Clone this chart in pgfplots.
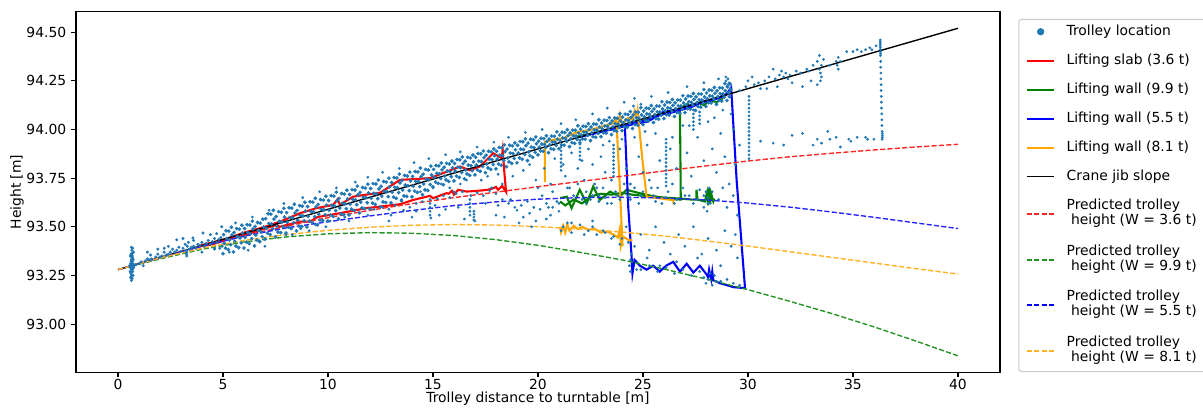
\documentclass[border=0pt]{standalone}
\usepackage{fontspec}
\setmainfont{DejaVu Sans}
\usepackage{pgfplots}
\usepackage{pgfplotstable}
\pgfplotsset{compat=1.18}

\definecolor{tabblue}{HTML}{1F77B4}
\definecolor{mplgreen}{HTML}{008000}
\definecolor{mplorange}{HTML}{FFA500}
\colorlet{predred}{red!85!white}
\colorlet{predgreen}{mplgreen!85!white}
\colorlet{predblue}{blue!85!white}
\colorlet{predorange}{mplorange!85!white}

% trolley positions: hook block at the turntable and the first metres of the jib
\pgfplotstableread[row sep=\\]{
x y\\
0.60 93.24\\0.62 93.26\\0.64 93.28\\0.66 93.30\\0.68 93.32\\0.70 93.34\\0.62 93.36\\0.66 93.38\\0.70 93.39\\
0.64 93.225\\0.68 93.235\\0.72 93.25\\0.58 93.27\\0.74 93.29\\0.60 93.31\\0.72 93.33\\0.58 93.35\\0.74 93.37\\
0.66 93.25\\0.70 93.27\\0.62 93.29\\0.64 93.33\\0.68 93.35\\0.60 93.29\\0.72 93.31\\0.66 93.34\\0.70 93.30\\
0.64 93.31\\0.68 93.28\\0.62 93.32\\0.76 93.30\\0.56 93.30\\0.66 93.36\\0.70 93.365\\0.64 93.395\\
0.85 93.305\\1.0 93.31\\1.1 93.32\\1.2 93.30\\1.3 93.325\\1.4 93.335\\1.5 93.33\\1.6 93.335\\1.55 93.355\\
1.8 93.345\\1.9 93.36\\2.0 93.345\\2.1 93.35\\2.2 93.37\\2.3 93.355\\2.4 93.36\\2.5 93.37\\2.6 93.385\\
2.7 93.37\\2.8 93.38\\2.9 93.395\\3.0 93.375\\3.1 93.39\\3.2 93.41\\3.25 93.38\\3.27 93.36\\3.28 93.35\\
3.27 93.37\\3.3 93.40\\3.35 93.42\\3.4 93.385\\3.5 93.395\\3.6 93.40\\3.7 93.39\\3.8 93.41\\3.9 93.405\\
4.0 93.42\\4.1 93.40\\4.2 93.415\\4.3 93.43\\4.4 93.41\\4.5 93.425\\4.6 93.44\\4.7 93.42\\4.8 93.435\\
4.9 93.445\\2.4 93.40\\2.8 93.433\\3.1 93.44\\3.57 93.443\\3.6 93.43\\1.9 93.385\\1.4 93.37\\2.2 93.39\\
4.05 93.468\\4.4 93.46\\4.7 93.465\\4.94 93.50\\4.95 93.40\\4.85 93.39\\4.0 93.37\\4.6 93.39\\
}\trolleystart

% trolley positions: dense band along the jib
\pgfplotstableread[row sep=\\]{
x y\\
5.00 93.362\\5.12 93.390\\5.06 93.415\\5.18 93.440\\5.03 93.460\\5.15 93.480\\
5.25 93.383\\5.37 93.408\\5.31 93.433\\5.43 93.458\\5.28 93.478\\5.40 93.498\\
5.50 93.371\\5.62 93.401\\5.56 93.426\\5.68 93.451\\5.53 93.471\\5.65 93.491\\
5.75 93.393\\5.87 93.418\\5.81 93.443\\5.93 93.468\\5.78 93.488\\5.90 93.508\\
6.00 93.391\\6.12 93.421\\6.06 93.446\\6.18 93.471\\6.03 93.491\\6.15 93.511\\
6.25 93.414\\6.37 93.439\\6.31 93.464\\6.43 93.489\\6.28 93.509\\6.40 93.529\\
6.50 93.402\\6.62 93.432\\6.56 93.457\\6.68 93.482\\6.53 93.502\\6.65 93.522\\
6.75 93.424\\6.87 93.449\\6.81 93.474\\6.93 93.499\\6.78 93.519\\6.90 93.539\\
7.00 93.437\\7.12 93.467\\7.06 93.492\\7.18 93.517\\7.03 93.542\\7.15 93.567\\
7.25 93.460\\7.37 93.490\\7.31 93.515\\7.43 93.540\\7.28 93.565\\7.40 93.585\\
7.50 93.448\\7.62 93.473\\7.56 93.503\\7.68 93.528\\7.53 93.553\\7.65 93.578\\
7.75 93.470\\7.87 93.500\\7.81 93.525\\7.93 93.550\\7.78 93.575\\7.90 93.595\\
8.00 93.468\\8.12 93.498\\8.06 93.523\\8.18 93.548\\8.03 93.573\\8.15 93.598\\
8.25 93.491\\8.37 93.521\\8.31 93.546\\8.43 93.571\\8.28 93.596\\8.40 93.616\\
8.50 93.479\\8.62 93.504\\8.56 93.534\\8.68 93.559\\8.53 93.584\\8.65 93.609\\
8.75 93.501\\8.87 93.531\\8.81 93.556\\8.93 93.581\\8.78 93.606\\8.90 93.626\\
9.00 93.499\\9.12 93.529\\9.06 93.554\\9.18 93.579\\9.03 93.604\\9.15 93.629\\
9.25 93.522\\9.37 93.552\\9.31 93.577\\9.43 93.602\\9.28 93.627\\9.40 93.647\\
9.50 93.510\\9.62 93.535\\9.56 93.565\\9.68 93.590\\9.53 93.615\\9.65 93.640\\
9.75 93.532\\9.87 93.562\\9.81 93.587\\9.93 93.612\\9.78 93.637\\9.90 93.657\\
10.00 93.530\\10.12 93.560\\10.06 93.585\\10.18 93.610\\10.03 93.635\\10.15 93.660\\
10.25 93.553\\10.37 93.583\\10.31 93.608\\10.43 93.633\\10.28 93.658\\10.40 93.678\\
10.50 93.541\\10.62 93.566\\10.56 93.596\\10.68 93.621\\10.53 93.646\\10.65 93.671\\
10.75 93.563\\10.87 93.593\\10.81 93.618\\10.93 93.643\\10.78 93.668\\10.90 93.688\\
11.00 93.561\\11.12 93.591\\11.06 93.616\\11.18 93.641\\11.03 93.666\\11.15 93.691\\
11.25 93.584\\11.37 93.614\\11.31 93.639\\11.43 93.664\\11.28 93.689\\11.40 93.709\\
11.50 93.572\\11.62 93.597\\11.56 93.627\\11.68 93.652\\11.53 93.677\\11.65 93.702\\
11.75 93.594\\11.87 93.624\\11.81 93.649\\11.93 93.674\\11.78 93.699\\11.90 93.719\\
12.00 93.592\\12.12 93.622\\12.06 93.647\\12.18 93.672\\12.03 93.697\\12.15 93.722\\
12.25 93.615\\12.37 93.645\\12.31 93.670\\12.43 93.695\\12.28 93.720\\12.40 93.740\\
12.50 93.603\\12.62 93.628\\12.56 93.658\\12.68 93.683\\12.53 93.708\\12.65 93.733\\
12.75 93.625\\12.87 93.655\\12.81 93.680\\12.93 93.705\\12.78 93.730\\12.90 93.750\\
13.00 93.623\\13.12 93.653\\13.06 93.678\\13.18 93.703\\13.03 93.728\\13.15 93.753\\
13.25 93.646\\13.37 93.676\\13.31 93.701\\13.43 93.726\\13.28 93.751\\13.40 93.771\\
13.50 93.634\\13.62 93.659\\13.56 93.689\\13.68 93.714\\13.53 93.739\\13.65 93.764\\
13.75 93.656\\13.87 93.686\\13.81 93.711\\13.93 93.736\\13.78 93.761\\13.90 93.781\\
14.00 93.654\\14.12 93.684\\14.06 93.709\\14.18 93.734\\14.03 93.759\\14.15 93.784\\
14.25 93.677\\14.37 93.707\\14.31 93.732\\14.43 93.757\\14.28 93.782\\14.40 93.802\\
14.50 93.665\\14.62 93.690\\14.56 93.720\\14.68 93.745\\14.53 93.770\\14.65 93.795\\
14.75 93.687\\14.87 93.717\\14.81 93.742\\14.93 93.767\\14.78 93.792\\14.90 93.812\\
15.00 93.705\\15.12 93.730\\15.06 93.755\\15.18 93.775\\15.03 93.795\\15.15 93.815\\
15.25 93.723\\15.37 93.748\\15.31 93.773\\15.43 93.793\\15.28 93.813\\15.40 93.828\\
15.50 93.716\\15.62 93.741\\15.56 93.761\\15.68 93.786\\15.53 93.806\\15.65 93.826\\
15.75 93.733\\15.87 93.758\\15.81 93.783\\15.93 93.803\\15.78 93.823\\15.90 93.838\\
16.00 93.736\\16.12 93.761\\16.06 93.786\\16.18 93.806\\16.03 93.826\\16.15 93.846\\
16.25 93.754\\16.37 93.779\\16.31 93.804\\16.43 93.824\\16.28 93.844\\16.40 93.859\\
16.50 93.747\\16.62 93.772\\16.56 93.792\\16.68 93.817\\16.53 93.837\\16.65 93.857\\
16.75 93.764\\16.87 93.789\\16.81 93.814\\16.93 93.834\\16.78 93.854\\16.90 93.869\\
17.00 93.767\\17.12 93.792\\17.06 93.817\\17.18 93.837\\17.03 93.857\\17.15 93.877\\
17.25 93.785\\17.37 93.810\\17.31 93.835\\17.43 93.855\\17.28 93.875\\17.40 93.890\\
17.50 93.778\\17.62 93.803\\17.56 93.823\\17.68 93.848\\17.53 93.868\\17.65 93.888\\
17.75 93.795\\17.87 93.820\\17.81 93.845\\17.93 93.865\\17.78 93.885\\17.90 93.900\\
18.00 93.798\\18.12 93.823\\18.06 93.848\\18.18 93.868\\18.03 93.888\\18.15 93.908\\
18.25 93.816\\18.37 93.841\\18.31 93.866\\18.43 93.886\\18.28 93.906\\18.40 93.921\\
18.50 93.809\\18.62 93.834\\18.56 93.854\\18.68 93.879\\18.53 93.899\\18.65 93.919\\
18.75 93.826\\18.87 93.851\\18.81 93.876\\18.93 93.896\\18.78 93.916\\18.90 93.931\\
19.00 93.829\\19.12 93.854\\19.06 93.879\\19.18 93.899\\19.03 93.919\\19.15 93.939\\
19.25 93.847\\19.37 93.872\\19.31 93.897\\19.43 93.917\\19.28 93.937\\19.40 93.952\\
19.50 93.840\\19.62 93.865\\19.56 93.885\\19.68 93.910\\19.53 93.930\\19.65 93.950\\
19.75 93.857\\19.87 93.882\\19.81 93.907\\19.93 93.927\\19.78 93.947\\19.90 93.962\\
20.00 93.870\\20.12 93.890\\20.06 93.910\\20.18 93.925\\20.03 93.940\\20.15 93.955\\
20.25 93.888\\20.37 93.908\\20.31 93.923\\20.43 93.938\\20.28 93.953\\20.40 93.968\\
20.50 93.881\\20.62 93.901\\20.56 93.921\\20.68 93.936\\20.53 93.951\\20.65 93.966\\
20.75 93.898\\20.87 93.918\\20.81 93.935\\20.93 93.951\\20.78 93.965\\20.90 93.988\\
21.00 93.901\\21.12 93.921\\21.06 93.941\\21.18 93.956\\21.03 93.971\\21.15 93.986\\
21.25 93.919\\21.37 93.939\\21.31 93.954\\21.43 93.969\\21.28 93.984\\21.40 93.999\\
21.50 93.912\\21.62 93.932\\21.56 93.952\\21.68 93.967\\21.53 93.982\\21.65 93.997\\
21.75 93.929\\21.87 93.949\\21.81 93.966\\21.93 93.982\\21.78 93.996\\21.90 94.019\\
22.00 93.932\\22.12 93.952\\22.06 93.972\\22.18 93.987\\22.03 94.002\\22.15 94.017\\
22.25 93.950\\22.37 93.970\\22.31 93.985\\22.43 94.000\\22.28 94.015\\22.40 94.030\\
22.50 93.943\\22.62 93.963\\22.56 93.983\\22.68 93.998\\22.53 94.013\\22.65 94.028\\
22.75 93.960\\22.87 93.980\\22.81 93.997\\22.93 94.013\\22.78 94.027\\22.90 94.050\\
23.00 93.963\\23.12 93.983\\23.06 94.003\\23.18 94.018\\23.03 94.033\\23.15 94.048\\
23.25 93.981\\23.37 94.001\\23.31 94.016\\23.43 94.031\\23.28 94.046\\23.40 94.061\\
23.50 93.974\\23.62 93.994\\23.56 94.014\\23.68 94.029\\23.53 94.044\\23.65 94.059\\
23.75 93.991\\23.87 94.011\\23.81 94.028\\23.93 94.044\\23.78 94.058\\23.90 94.081\\
24.00 93.994\\24.12 94.014\\24.06 94.034\\24.18 94.049\\24.03 94.064\\24.15 94.079\\
24.25 94.012\\24.37 94.032\\24.31 94.047\\24.43 94.062\\24.28 94.077\\24.40 94.092\\
24.50 94.005\\24.62 94.025\\24.56 94.045\\24.68 94.060\\24.53 94.075\\24.65 94.090\\
24.75 94.022\\24.87 94.042\\24.81 94.059\\24.93 94.075\\24.78 94.089\\24.90 94.112\\
25.00 94.025\\25.12 94.045\\25.06 94.065\\25.18 94.080\\25.03 94.095\\25.15 94.110\\
25.25 94.043\\25.37 94.063\\25.31 94.078\\25.43 94.093\\25.28 94.108\\25.40 94.123\\
25.50 94.036\\25.62 94.056\\25.56 94.076\\25.68 94.091\\25.53 94.106\\25.65 94.121\\
25.75 94.053\\25.87 94.073\\25.81 94.090\\25.93 94.106\\25.78 94.120\\25.90 94.143\\
26.00 94.056\\26.12 94.076\\26.06 94.096\\26.18 94.111\\26.03 94.126\\26.15 94.141\\
26.25 94.074\\26.37 94.094\\26.31 94.109\\26.43 94.124\\26.28 94.139\\26.40 94.154\\
26.50 94.067\\26.62 94.087\\26.56 94.107\\26.68 94.122\\26.53 94.137\\26.65 94.152\\
26.75 94.084\\26.87 94.104\\26.81 94.121\\26.93 94.137\\26.78 94.151\\26.90 94.174\\
27.00 94.087\\27.12 94.107\\27.06 94.127\\27.18 94.142\\27.03 94.157\\27.15 94.172\\
27.25 94.105\\27.37 94.125\\27.31 94.140\\27.43 94.155\\27.28 94.170\\27.40 94.185\\
27.50 94.098\\27.62 94.118\\27.56 94.138\\27.68 94.153\\27.53 94.168\\27.65 94.183\\
27.75 94.115\\27.87 94.135\\27.81 94.152\\27.93 94.168\\27.78 94.182\\27.90 94.205\\
28.00 94.118\\28.12 94.138\\28.06 94.158\\28.18 94.173\\28.03 94.188\\28.15 94.203\\
28.25 94.136\\28.37 94.156\\28.31 94.171\\28.43 94.186\\28.28 94.201\\28.40 94.216\\
28.50 94.129\\28.62 94.149\\28.56 94.169\\28.68 94.184\\28.53 94.199\\28.65 94.214\\
28.75 94.146\\28.87 94.166\\28.81 94.183\\28.93 94.199\\28.78 94.213\\28.90 94.236\\
29.00 94.149\\29.12 94.169\\29.06 94.189\\29.18 94.204\\29.03 94.219\\29.15 94.234\\
}\trolleyband

% trolley positions: scattered readings, vertical streaks and the outer jib
\pgfplotstableread[row sep=\\]{
x y\\
5.6 93.52\\6.4 93.55\\7.2 93.585\\7.9 93.62\\8.8 93.65\\9.6 93.68\\10.4 93.70\\11.3 93.73\\11.9 93.755\\
12.6 93.78\\13.4 93.80\\14.1 93.83\\14.8 93.85\\15.6 93.87\\16.3 93.885\\17.1 93.91\\17.9 93.935\\18.6 93.96\\
19.4 93.985\\20.2 94.0\\21.1 94.03\\21.8 94.05\\22.6 94.08\\23.3 94.11\\24.1 94.14\\24.6 94.16\\25.4 94.17\\
26.2 94.19\\27.1 94.22\\27.9 94.24\\28.6 94.26\\28.95 94.25\\29.0 94.22\\28.9 94.20\\24.9 94.13\\24.55 94.12\\
29.05 94.26\\29.1 94.24\\29.05 94.23\\29.15 94.21\\29.1 94.19\\28.95 94.27\\
12.6 93.60\\12.9 93.59\\13.2 93.61\\13.6 93.585\\13.9 93.60\\14.2 93.62\\14.5 93.63\\14.86 93.64\\14.86 93.62\\
14.86 93.60\\14.86 93.58\\14.86 93.56\\14.9 93.545\\15.2 93.645\\15.5 93.66\\15.8 93.65\\16.1 93.67\\16.4 93.68\\
16.76 93.64\\16.76 93.62\\16.76 93.60\\16.76 93.58\\16.76 93.56\\16.8 93.66\\17.1 93.675\\17.4 93.66\\17.7 93.685\\
18.0 93.67\\18.3 93.64\\18.6 93.62\\18.9 93.60\\19.2 93.61\\19.5 93.63\\19.8 93.60\\20.1 93.59\\20.4 93.62\\
20.7 93.60\\21.0 93.58\\19.0 93.585\\18.7 93.64\\18.1 93.61\\17.5 93.62\\16.2 93.60\\15.6 93.59\\15.1 93.61\\
19.6 93.57\\20.9 93.63\\13.5 93.64\\14.2 93.58\\12.2 93.59\\11.5 93.57\\10.8 93.55\\10.1 93.53\\9.4 93.51\\
8.7 93.49\\8.0 93.46\\11.9 93.56\\13.0 93.56\\17.0 93.53\\17.3 93.74\\18.1 93.77\\16.3 93.72\\15.8 93.70\\
19.3 93.79\\19.9 93.74\\16.95 93.535\\16.95 93.55\\16.95 93.565\\16.95 93.58\\
14.4 93.68\\15.4 93.72\\16.6 93.74\\17.6 93.76\\18.8 93.76\\19.6 93.82\\20.0 93.70\\18.3 93.72\\17.8 93.70\\
16.0 93.68\\15.0 93.70\\12.9 93.53\\14.0 93.55\\15.3 93.56\\16.5 93.54\\18.0 93.56\\19.3 93.55\\19.9 93.53\\
20.6 93.56\\7.0 93.40\\8.3 93.46\\9.1 93.48\\9.9 93.50\\11.0 93.53\\6.2 93.38\\5.3 93.37\\4.6 93.385\\
21.1 93.91\\21.1 93.89\\21.1 93.87\\21.1 93.85\\21.1 93.83\\21.1 93.81\\21.1 93.79\\
22.0 93.945\\22.0 93.925\\22.0 93.905\\22.0 93.885\\22.0 93.865\\22.0 93.845\\
23.6 93.92\\23.6 93.90\\23.6 93.88\\23.6 93.86\\23.6 93.84\\23.6 93.82\\23.6 93.80\\23.6 93.78\\23.6 93.76\\
26.1 93.95\\26.1 93.93\\26.1 93.91\\26.1 93.89\\26.1 93.87\\26.1 93.85\\26.1 93.83\\26.1 93.81\\26.1 93.79\\
26.1 93.77\\26.1 93.75\\26.1 93.73\\26.1 93.71\\
27.4 94.10\\27.4 94.08\\27.4 94.06\\27.4 94.04\\27.4 94.02\\27.4 94.00\\27.7 94.09\\27.7 94.07\\27.7 94.05\\27.7 94.03\\
30.05 94.17\\30.05 94.15\\30.05 94.13\\30.05 94.11\\30.05 94.09\\30.05 94.07\\30.05 94.05\\30.05 94.03\\30.05 94.01\\
30.05 93.99\\30.05 93.97\\30.05 93.95\\30.05 93.93\\30.05 93.91\\30.05 93.89\\30.05 93.87\\30.05 93.85\\
36.30 94.46\\36.30 94.45\\36.30 94.44\\36.30 94.43\\36.30 94.42\\36.31 94.41\\36.31 94.40\\36.31 94.39\\36.31 94.38\\
36.32 94.35\\36.32 94.32\\36.33 94.29\\36.33 94.26\\36.34 94.23\\36.34 94.20\\36.35 94.17\\36.35 94.14\\36.36 94.11\\
36.37 94.08\\36.38 94.05\\36.38 94.02\\36.39 93.99\\36.40 93.98\\36.40 93.97\\36.40 93.96\\36.39 93.95\\
29.6 94.20\\29.9 94.22\\30.3 94.23\\30.5 94.24\\30.8 94.25\\31.0 94.27\\31.3 94.26\\31.5 94.28\\31.6 94.30\\
31.7 94.27\\31.8 94.29\\31.9 94.26\\32.0 94.28\\32.3 94.30\\32.5 94.29\\32.8 94.31\\33.1 94.33\\33.3 94.35\\
33.4 94.31\\33.45 94.29\\33.5 94.27\\33.45 94.25\\33.5 94.33\\33.6 94.36\\33.4 94.38\\33.9 94.33\\34.2 94.35\\
34.25 94.33\\34.3 94.37\\34.3 94.31\\34.4 94.35\\34.7 94.40\\35.0 94.40\\35.2 94.41\\35.4 94.40\\35.6 94.41\\
35.8 94.42\\35.9 94.41\\36.1 94.43\\32.1 94.24\\32.6 94.22\\31.4 94.22\\30.9 94.21\\33.3 94.23\\30.6 94.21\\
33.0 94.25\\32.9 94.30\\30.2 94.27\\31.2 94.31\\30.0 94.25\\
30.6 93.94\\31.2 93.93\\31.7 93.92\\32.1 93.97\\32.6 93.98\\33.1 93.92\\33.3 93.95\\33.5 93.93\\33.8 93.99\\
33.9 93.95\\34.2 93.96\\34.4 93.91\\34.8 93.95\\34.9 93.94\\35.2 93.96\\35.6 93.96\\35.7 93.95\\36.0 93.95\\
20.3 93.80\\20.6 93.72\\20.8 93.85\\21.3 93.76\\21.5 93.70\\21.6 93.88\\21.9 93.80\\22.2 93.74\\22.4 93.90\\
22.6 93.82\\22.8 93.70\\23.0 93.86\\23.2 93.78\\23.4 93.94\\23.9 93.90\\24.2 93.80\\24.4 93.72\\24.6 93.96\\
24.8 93.86\\25.0 93.78\\25.2 93.92\\25.4 93.70\\25.6 93.98\\25.8 93.84\\26.4 93.96\\26.6 93.80\\26.9 94.02\\
27.1 93.88\\27.3 93.76\\27.6 93.96\\27.9 93.84\\28.1 94.04\\28.3 93.90\\28.5 93.78\\28.7 93.98\\28.9 93.86\\
29.1 93.72\\29.3 94.00\\29.4 93.82\\29.6 93.92\\29.2 94.08\\28.8 94.10\\28.4 94.06\\27.2 94.02\\26.3 93.90\\
25.1 93.99\\24.0 93.95\\23.1 93.92\\22.1 93.84\\21.2 93.82\\
20.2 93.66\\20.5 93.60\\20.7 93.68\\21.0 93.62\\21.4 93.70\\21.7 93.66\\21.9 93.72\\22.3 93.68\\22.5 93.64\\
22.7 93.72\\22.9 93.66\\23.1 93.70\\23.3 93.62\\23.5 93.74\\23.7 93.68\\23.9 93.64\\24.1 93.72\\24.3 93.66\\
24.6 93.70\\24.8 93.62\\25.0 93.68\\25.3 93.74\\25.5 93.66\\25.7 93.70\\25.9 93.62\\26.2 93.68\\26.4 93.72\\
26.6 93.64\\26.9 93.70\\27.2 93.66\\27.4 93.62\\27.7 93.69\\27.9 93.66\\28.1 93.62\\28.3 93.68\\28.6 93.64\\
28.8 93.70\\29.0 93.60\\29.3 93.66\\29.5 93.56\\
22.1 93.64\\22.3 93.62\\22.6 93.66\\22.9 93.63\\23.2 93.65\\23.5 93.62\\23.8 93.66\\24.4 93.64\\24.9 93.66\\
25.6 93.63\\26.1 93.65\\26.5 93.62\\27.0 93.66\\27.6 93.64\\27.9 93.60\\28.0 93.68\\28.1 93.65\\28.2 93.62\\
28.15 93.70\\28.05 93.58\\
18.4 93.55\\19.1 93.52\\19.7 93.50\\20.4 93.54\\21.1 93.48\\21.6 93.52\\22.2 93.46\\22.6 93.53\\23.1 93.48\\
23.5 93.44\\24.2 93.50\\24.6 93.40\\24.9 93.46\\25.3 93.38\\25.6 93.50\\26.0 93.42\\26.3 93.36\\26.7 93.46\\
27.0 93.40\\27.4 93.50\\27.8 93.36\\28.1 93.44\\28.5 93.38\\28.9 93.48\\29.2 93.40\\29.5 93.34\\29.4 93.46\\
28.7 93.30\\27.6 93.34\\26.6 93.32\\25.8 93.30\\25.2 93.34\\24.7 93.28\\
24.9 93.28\\25.3 93.30\\25.7 93.27\\26.1 93.29\\26.5 93.26\\26.9 93.28\\27.3 93.25\\27.7 93.27\\28.1 93.23\\
28.4 93.25\\28.7 93.22\\29.0 93.23\\29.3 93.21\\29.6 93.20\\28.5 93.22\\27.9 93.24\\28.2 93.26\\28.0 93.21\\
28.3 93.20\\
21.2 93.50\\21.6 93.47\\22.0 93.51\\22.4 93.48\\22.8 93.46\\23.2 93.47\\23.6 93.45\\24.0 93.44\\24.3 93.42\\
21.4 93.52\\22.6 93.50\\23.9 93.41\\24.35 93.30\\24.4 93.33\\24.45 93.36\\24.4 93.27\\
}\trolleyscatter

\begin{document}
\begin{tikzpicture}
\begin{axis}[
  scale only axis,
  width=665.3pt, height=259.4pt,
  xmin=-2, xmax=42, ymin=92.753, ymax=94.604,
  xtick={0,5,10,15,20,25,30,35,40},
  ytick={93,93.25,93.5,93.75,94,94.25,94.5},
  yticklabel style={/pgf/number format/fixed,
    /pgf/number format/fixed zerofill,
    /pgf/number format/precision=2},
  xticklabel style={yshift=2pt},
  /pgf/number format/assume math mode=true,
  tick align=outside, tick pos=left,
  major tick length=3.5pt,
  every tick/.style={black, line width=0.8pt},
  axis line style={line width=0.8pt},
  xlabel={Trolley distance to turntable [m]},
  ylabel={Height [m]},
  xlabel style={yshift=5pt},
  ylabel style={yshift=-5pt},
  legend image code/.code={\draw[#1] (0cm,0cm) -- (0.7cm,0cm);},
  legend cell align=left,
  legend style={at={(1.0198,0.9806)}, anchor=north west,
    draw=black!20, line width=0.8pt, rounded corners=2pt,
    fill=white, font=\fontsize{10}{10.8}\selectfont,
    inner xsep=5pt, inner ysep=2pt, row sep=7.2pt, column sep=6pt,
    nodes={inner sep=2pt, text depth={}}},
]

% trolley location readings
\addplot[only marks, mark=*, mark size=1.0pt,
  mark options={draw=tabblue, fill=tabblue, line width=0.2pt},
  legend image code/.code={\fill[tabblue] (0.35cm,0cm) circle (2.2pt);}]
  table {\trolleystart};
\addlegendentry{Trolley location}
\addplot[only marks, mark=*, mark size=1.25pt, forget plot,
  mark options={draw=tabblue, fill=tabblue, line width=0.2pt}]
  table {\trolleyband};
\addplot[only marks, mark=*, mark size=0.9pt, forget plot,
  mark options={draw=tabblue, fill=tabblue, line width=0.2pt}]
  table {\trolleyscatter};

% lifting slab, 3.6 t
\addplot[red, line width=1.5pt] coordinates {
  (3.8,93.40) (4.5,93.42) (5.2,93.44) (6.0,93.47) (7.0,93.50) (7.8,93.53)
  (8.67,93.57) (9.46,93.596) (10.25,93.613) (10.46,93.642) (10.57,93.613)
  (11.2,93.655) (11.8,93.665) (12.48,93.675) (13.43,93.741) (14.86,93.75)
  (16.29,93.81) (16.76,93.79) (17.24,93.81) (17.87,93.878) (18.27,93.853)
  (18.32,93.895) (18.40,93.78) (18.48,93.68) (18.3,93.71) (18.1,93.69)
  (18.0,93.705) (17.87,93.698) (17.6,93.69) (17.24,93.686) (16.6,93.681)
  (16.2,93.69) (16.0,93.665) (15.9,93.685) (15.75,93.67) (15.65,93.673)
  (15.0,93.647) (14.86,93.659) (14.06,93.638) (13.43,93.616) (12.48,93.604)
  (11.84,93.596) (10.57,93.57) (9.5,93.55) (9.14,93.527) (8.67,93.527)
  (7.7,93.50) (7.56,93.51) (6.29,93.467) (5.17,93.433) (4.5,93.41) (3.9,93.40)};
\addlegendentry{Lifting slab (3.6 t)}

% lifting wall, 9.9 t
\addplot[mplgreen, line width=1.5pt] coordinates {
  (21.05,93.647) (21.37,93.655) (21.6,93.596) (21.99,93.69) (22.32,93.62)
  (22.63,93.707) (22.95,93.638) (23.43,93.681) (23.9,93.655) (24.22,93.69)
  (25.17,93.664) (25.9,93.65) (26.44,93.642) (26.8,93.64) (26.78,93.9)
  (26.76,94.105) (27.1,94.13) (27.3,94.115) (27.6,94.14) (27.9,94.125)
  (28.2,94.15) (28.5,94.14) (28.8,94.16)};
\addlegendentry{Lifting wall (9.9 t)}
\addplot[mplgreen, line width=1.5pt, forget plot] coordinates {
  (21.05,93.63) (21.3,93.61) (21.7,93.64) (22.1,93.62) (22.5,93.655)
  (23.0,93.67) (23.5,93.665) (24.0,93.675) (24.5,93.665) (25.0,93.66)
  (25.5,93.655) (26.0,93.65) (26.8,93.645) (27.3,93.64) (27.55,93.64)
  (27.55,93.69) (27.6,93.64) (27.95,93.63) (28.05,93.675) (28.1,93.61)
  (28.15,93.70) (28.2,93.62) (28.25,93.67) (28.35,93.63) (28.4,93.645)};
\addplot[mplgreen, line width=1.5pt, forget plot] coordinates {
  (21.84,93.963) (22.5,93.978) (23.2,93.994) (23.8,94.008) (24.5,94.03)
  (25.2,94.052) (25.9,94.078) (26.4,94.096) (26.76,94.105)};

% lifting wall, 5.5 t
\addplot[blue, line width=1.5pt] coordinates {
  (22.0,93.962) (22.8,93.982) (23.59,94.003) (24.14,94.018) (24.54,94.035)
  (25.17,94.046) (25.6,94.068) (25.97,94.09) (26.4,94.098) (26.76,94.108)
  (27.2,94.122) (27.56,94.133) (28.0,94.148) (28.35,94.155) (28.7,94.168)
  (28.98,94.18) (29.1,94.20) (29.2,94.215) (29.46,93.74) (29.86,93.185)
  (29.3,93.19) (29.0,93.20) (28.67,93.21) (28.35,93.225) (28.3,93.27)
  (28.25,93.23) (28.15,93.28) (28.1,93.24) (28.03,93.255) (27.71,93.30)
  (27.4,93.265) (27.08,93.31) (26.76,93.27) (26.44,93.32) (26.1,93.30)
  (25.8,93.27) (25.49,93.30) (25.17,93.28) (24.86,93.30) (24.6,93.33)
  (24.5,93.26) (24.46,93.345) (24.3,93.6) (24.14,94.015)};
\addlegendentry{Lifting wall (5.5 t)}
\addplot[blue, line width=1.5pt, forget plot] coordinates {
  (24.14,94.015) (24.6,94.03) (25.2,94.04) (25.8,94.075) (26.3,94.085)
  (26.8,94.10) (27.3,94.115) (27.8,94.14) (28.3,94.15) (28.8,94.17) (29.1,94.19)};

% lifting wall, 8.1 t
\addplot[mplorange, line width=1.5pt] coordinates {
  (20.33,93.73) (20.33,93.938) (20.73,93.947) (21.2,93.955) (21.6,93.975)
  (22.0,93.99) (22.4,93.995) (22.8,94.007) (23.2,94.02) (23.59,94.032)
  (23.7,94.05) (23.8,94.015) (23.9,94.075) (24.0,94.03) (24.3,94.06)
  (24.5,94.05) (24.6,94.095) (24.72,94.06) (24.75,94.09) (24.95,93.87)
  (25.17,93.655) (25.5,93.65) (25.9,93.645) (26.2,93.64) (26.44,93.638)
  (26.46,93.615)};
\addlegendentry{Lifting wall (8.1 t)}
\addplot[mplorange, line width=1.5pt, forget plot] coordinates {
  (23.75,94.015) (23.9,93.70) (24.03,93.40)};
\addplot[mplorange, line width=1.5pt, forget plot] coordinates {
  (21.05,93.50) (21.1,93.472) (21.2,93.505) (21.3,93.47) (21.4,93.512)
  (21.5,93.48) (21.7,93.505) (21.9,93.488) (22.1,93.50) (22.4,93.485)
  (22.7,93.49) (23.0,93.47) (23.3,93.476) (23.6,93.46) (23.8,93.445)
  (23.9,93.49) (23.95,93.405) (24.05,93.45) (24.2,93.44) (24.35,93.43)
  (24.5,93.432)};

% crane jib
\addplot[black, line width=1pt] coordinates {(0,93.28) (40,94.52)};
\addlegendentry{Crane jib slope}

% predicted trolley heights
\addplot[predred, line width=1pt, dash pattern=on 3.7pt off 1.6pt,
  legend image code/.code={\draw[predred, line width=1pt, dash pattern=on 3.7pt off 1.6pt] (0cm,0cm) -- (0.7cm,0cm);}]
  coordinates {
  (0,93.280) (2,93.342) (4,93.400) (6,93.454) (8,93.503) (10,93.547)
  (12,93.585) (14,93.619) (16,93.650) (18,93.678) (20,93.706) (22,93.733)
  (24,93.760) (26,93.787) (28,93.813) (30,93.838) (32,93.860) (34,93.878)
  (36,93.895) (38,93.910) (40,93.924)};
\addlegendentry{\begin{tabular}{@{}l@{}}Predicted trolley\\\hspace*{3.2pt}height (W = 3.6 t)\end{tabular}}
\addplot[predgreen, line width=1pt, dash pattern=on 3.7pt off 1.6pt,
  legend image code/.code={\draw[predgreen, line width=1.2pt, dash pattern=on 3.7pt off 1.6pt] (0cm,0cm) -- (0.7cm,0cm);}]
  coordinates {
  (0,93.280) (2,93.335) (4,93.385) (6,93.422) (8,93.448) (10,93.464)
  (12,93.470) (14,93.467) (16,93.455) (18,93.434) (20,93.405) (22,93.369)
  (24,93.330) (26,93.283) (28,93.232) (30,93.177) (32,93.117) (34,93.054)
  (36,92.986) (38,92.913) (40,92.837)};
\addlegendentry{\begin{tabular}{@{}l@{}}Predicted trolley\\\hspace*{3.2pt}height (W = 9.9 t)\end{tabular}}
\addplot[predblue, line width=1pt, dash pattern=on 3.7pt off 1.6pt,
  legend image code/.code={\draw[blue, line width=1.4pt, dash pattern=on 3.7pt off 1.6pt] (0cm,0.3pt) -- (0.7cm,0.3pt);}]
  coordinates {
  (0,93.280) (2,93.340) (4,93.400) (6,93.452) (8,93.494) (10,93.526)
  (12,93.556) (14,93.584) (16,93.609) (18,93.628) (20,93.642) (22,93.650)
  (24,93.652) (26,93.648) (28,93.638) (30,93.622) (32,93.601) (34,93.576)
  (36,93.549) (38,93.520) (40,93.491)};
\addlegendentry{\begin{tabular}{@{}l@{}}Predicted trolley\\\hspace*{3.2pt}height (W = 5.5 t)\end{tabular}}
\addplot[predorange, line width=1pt, dash pattern=on 3.7pt off 1.6pt,
  legend image code/.code={\draw[predorange, line width=1pt, dash pattern=on 3.7pt off 1.6pt] (0cm,0cm) -- (0.7cm,0cm);}]
  coordinates {
  (0,93.280) (2,93.340) (4,93.390) (6,93.430) (8,93.460) (10,93.482)
  (12,93.498) (14,93.508) (16,93.512) (18,93.509) (20,93.501) (22,93.489)
  (24,93.473) (26,93.453) (28,93.428) (30,93.401) (32,93.372) (34,93.343)
  (36,93.314) (38,93.285) (40,93.257)};
\addlegendentry{\begin{tabular}{@{}l@{}}Predicted trolley\\\hspace*{3.2pt}height (W = 8.1 t)\end{tabular}}
\end{axis}
\pgfresetboundingbox
\path ([shift={(-54.7pt,-28.6pt)}]current axis.south west)
  rectangle ([shift={(146.2pt,8.6pt)}]current axis.north east);
\end{tikzpicture}
\end{document}
